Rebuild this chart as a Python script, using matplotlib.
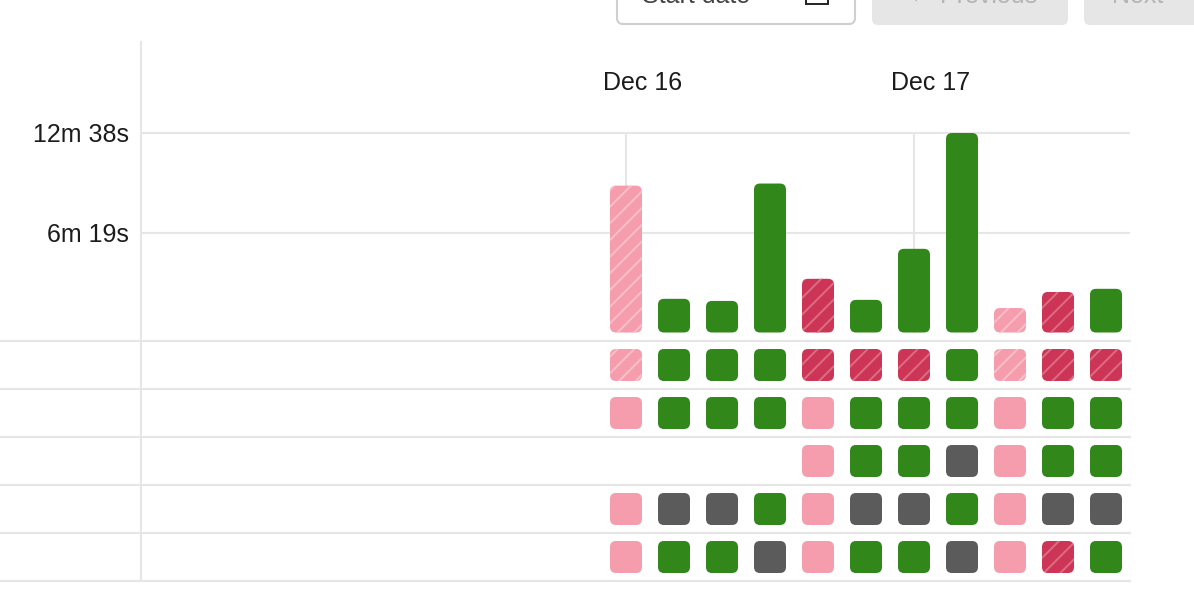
import matplotlib.pyplot as plt
from matplotlib.patches import FancyBboxPatch, Rectangle

plt.rcParams['font.family'] = ['Liberation Sans', 'DejaVu Sans']
plt.rcParams['hatch.linewidth'] = 1.4

# --- data ---------------------------------------------------------------
columns = list(range(11))
date_ticks = [0, 6]
date_labels = ['Dec 16', 'Dec 17']

# build duration in seconds, one bar per column
durations = [558, 128, 120, 566, 204, 124, 318, 758, 93, 154, 166]
# P = passed, F = failed, L = failed (allowed), S = skipped, C = canceled, '' = no job
bar_status = ['L', 'P', 'P', 'P', 'F', 'P', 'P', 'P', 'L', 'F', 'P']
row_status = [
    ['L', 'P', 'P', 'P', 'F', 'F', 'F', 'P', 'L', 'F', 'F'],
    ['S', 'P', 'P', 'P', 'S', 'P', 'P', 'P', 'S', 'P', 'P'],
    ['', '', '', '', 'S', 'P', 'P', 'C', 'S', 'P', 'P'],
    ['S', 'C', 'C', 'P', 'S', 'C', 'C', 'P', 'S', 'C', 'C'],
    ['S', 'P', 'P', 'C', 'S', 'P', 'P', 'C', 'S', 'F', 'P'],
]
ytick_values = [379, 758]
ytick_labels = ['6m 19s', '12m 38s']

# --- styles -------------------------------------------------------------
STYLE = {
    'P': ('#31871a', None, None),
    'F': ('#cc3555', '//', '#dc6d82'),
    'L': ('#f59dad', '//', '#f9bfca'),
    'S': ('#f59dad', None, None),
    'C': ('#5b5b5b', None, None),
}
GRID = '#e6e6e6'
TEXT = '#1c1c1c'

W, H = 1194, 610
fig = plt.figure(figsize=(W / 100, H / 100), dpi=100)
fig.patch.set_facecolor('white')


def px_axes(x0, y0, x1, y1):
    return fig.add_axes([x0 / W, 1 - y1 / H, (x1 - x0) / W, (y1 - y0) / H])


def rounded(ax, x, y, w, h, status, radius, aspect):
    face, hatch, hcol = STYLE[status]
    p = FancyBboxPatch((x, y), w, h,
                       boxstyle=f'round,pad=0,rounding_size={radius}',
                       mutation_aspect=aspect, facecolor=face,
                       edgecolor=hcol if hcol else face, linewidth=0,
                       hatch=hatch, zorder=3)
    ax.add_patch(p)


# column c sits at pixel 626 + 48 * c, 48 px per column
col_px0, col_step = 626, 48
sec_per_px = 758 / 199.5
base_px = 332.5

# --- duration bars --------------------------------------------------------
ax = px_axes(141, 42, 1130, 341)
ax.set_xlim((141 - col_px0) / col_step, (1130 - col_px0) / col_step)
ax.set_ylim(-(341 - base_px) * sec_per_px, (base_px - 42) * sec_per_px)
ax.set_axisbelow(True)
bar_w = 32 / col_step
asp = sec_per_px * col_step
for c, d, s in zip(columns, durations, bar_status):
    rounded(ax, c - bar_w / 2, 0, bar_w, d, s, 6 / col_step, asp)
ax.vlines(date_ticks, 0, max(ytick_values), color=GRID, lw=1.5, zorder=1)
for c, lab in zip(date_ticks, date_labels):
    ax.text(c + 0.35, (base_px - 82.5) * sec_per_px, lab, ha='center',
            va='center', fontsize=18, color=TEXT)
ax.set_yticks(ytick_values)
ax.set_yticklabels(ytick_labels)
ax.set_xticks([])
ax.tick_params(axis='y', length=0, pad=8.6, labelsize=18, labelcolor=TEXT)
ax.grid(axis='y', color=GRID, lw=1.5)
for side in ['top', 'right', 'bottom']:
    ax.spines[side].set_visible(False)
ax.spines['left'].set_color(GRID)
ax.spines['left'].set_linewidth(1.5)
left_edge = ax.get_xlim()[0]

# --- job status rows ------------------------------------------------------
ax2 = px_axes(0, 341, 1130, 590)
ax2.set_xlim((0 - col_px0) / col_step, (1130 - col_px0) / col_step)
ax2.set_ylim(4.5 + 9 / col_step, -0.5)
ax2.axis('off')
n_rows = len(row_status)
for i in range(n_rows + 1):
    ax2.axhline(i - 0.5, color=GRID, lw=1.5, clip_on=False, zorder=1)
ax2.vlines([left_edge], -0.5, n_rows - 0.5, color=GRID, lw=1.5, zorder=1)
for r, row in enumerate(row_status):
    for c, s in zip(columns, row):
        if s:
            rounded(ax2, c - bar_w / 2, r - bar_w / 2, bar_w, bar_w, s,
                    6 / col_step, 1)

# --- toolbar buttons, cut off at the top edge like in the screenshot --------
ui = px_axes(0, 0, W, H)
ui.set_xlim(0, W)
ui.set_ylim(H, 0)
ui.axis('off')
ui.set_zorder(-1)
ui.add_patch(FancyBboxPatch((617, -20), 238, 44, boxstyle='round,pad=0,rounding_size=6',
                            facecolor='white', edgecolor='#cfcfcf', lw=1.5))
ui.add_patch(Rectangle((806, -15), 22, 19, facecolor='none', edgecolor='#222222', lw=1.4))
ui.text(642, 3, 'Start date', ha='left', va='baseline', fontsize=18, color='#444444')
ui.add_patch(FancyBboxPatch((872, -20), 196, 45, boxstyle='round,pad=0,rounding_size=6',
                            facecolor='#e6e6e6', edgecolor='none'))
ui.text(973, 3, '\u2190 Previous', ha='center', va='baseline', fontsize=18, color='#b5b5b5')
ui.add_patch(FancyBboxPatch((1084, -20), 160, 45, boxstyle='round,pad=0,rounding_size=6',
                            facecolor='#e6e6e6', edgecolor='none'))
ui.text(1138, 3, 'Next', ha='center', va='baseline', fontsize=18, color='#b5b5b5')

fig.savefig('out.png', dpi=100, facecolor='white')
